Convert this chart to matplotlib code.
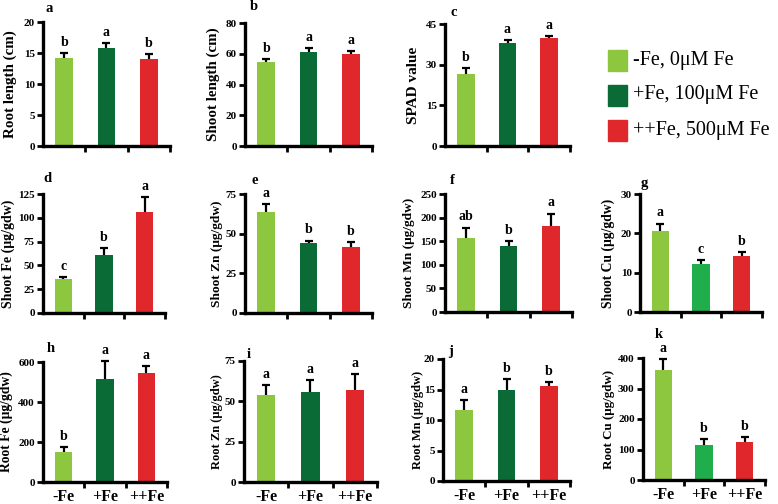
import numpy as np
import matplotlib
matplotlib.use("Agg")
import matplotlib.pyplot as plt
from matplotlib.patches import Rectangle

plt.rcParams['font.family'] = ['Liberation Serif', 'DejaVu Serif']

W, H = 778, 504

treatments = ["-Fe", "+Fe", "++Fe"]
legend_labels = ["-Fe, 0\u03bcM Fe", "+Fe, 100\u03bcM Fe", "++Fe, 500\u03bcM Fe"]

panel_ids = ["a", "b", "c", "d", "e", "f", "g", "h", "i", "j", "k"]
ylabels = ["Root length (cm)", "Shoot length (cm)", "SPAD value",
           "Shoot Fe (\u03bcg/gdw)", "Shoot Zn (\u03bcg/gdw)", "Shoot Mn (\u03bcg/gdw)", "Shoot Cu (\u03bcg/gdw)",
           "Root Fe (\u03bcg/gdw)", "Root Zn (\u03bcg/gdw)", "Root Mn (\u03bcg/gdw)", "Root Cu (\u03bcg/gdw)"]

root_length = [14.2, 15.8, 14.0]
root_length_err = [0.8, 0.8, 0.8]
shoot_length = [54.5, 61.0, 60.0]
shoot_length_err = [2.0, 2.6, 1.7]
spad = [26.6, 38.0, 39.9]
spad_err = [2.2, 1.1, 0.7]
shoot_fe = [36.0, 60.6, 106.0]
shoot_fe_err = [1.8, 7.7, 16.0]
shoot_zn = [63.4, 44.0, 41.8]
shoot_zn_err = [5.3, 1.6, 3.0]
shoot_mn = [156.0, 140.0, 182.0]
shoot_mn_err = [23.0, 11.0, 26.5]
shoot_cu = [20.7, 12.3, 14.2]
shoot_cu_err = [1.8, 0.8, 1.1]
root_fe = [150.0, 515.0, 547.0]
root_fe_err = [25.0, 88.0, 33.0]
root_zn = [53.8, 55.9, 57.3]
root_zn_err = [6.2, 7.2, 9.4]
root_mn = [11.6, 14.9, 15.5]
root_mn_err = [1.6, 1.8, 0.7]
root_cu = [362.0, 115.0, 126.0]
root_cu_err = [35.0, 20.0, 16.0]

values = [root_length, shoot_length, spad, shoot_fe, shoot_zn, shoot_mn, shoot_cu,
          root_fe, root_zn, root_mn, root_cu]
errors = [root_length_err, shoot_length_err, spad_err, shoot_fe_err, shoot_zn_err, shoot_mn_err,
          shoot_cu_err, root_fe_err, root_zn_err, root_mn_err, root_cu_err]
sig_letters = [["b", "a", "b"], ["b", "a", "a"], ["b", "a", "a"],
               ["c", "b", "a"], ["a", "b", "b"], ["ab", "b", "a"], ["a", "c", "b"],
               ["b", "a", "a"], ["a", "a", "a"], ["a", "b", "b"], ["a", "b", "b"]]
yticks = [[0, 5, 10, 15, 20], [0, 20, 40, 60, 80], [0, 15, 30, 45],
          [0, 25, 50, 75, 100, 125], [0, 25, 50, 75], [0, 50, 100, 150, 200, 250], [0, 10, 20, 30],
          [0, 200, 400, 600], [0, 25, 50, 75], [0, 5, 10, 15, 20], [0, 100, 200, 300, 400]]

colors = ["#8dc63f", "#0b6b36", "#e0282c"]
alt_mid = "#1fae4b"

# layout in pixels: x_left, x_right, y_top, y_bottom, ylabel offset, ylabel size, letter dx, letter dy
layout = [
    (43, 170, 22, 146, 26, 10.8, 2, 14),
    (245, 372, 23, 146, 25, 10.8, 5, 17),
    (445, 570, 24, 146, 25, 11, 5, 12),
    (43, 165, 194, 313, 28, 10, 0, 16),
    (245, 372, 194, 313, 22, 9.6, 7, 14),
    (445, 572, 194, 312, 30, 9.6, 5, 13),
    (640, 762, 194, 312, 25, 9.8, 1, 11),
    (43, 167, 362, 482, 30, 9.8, 4, 14),
    (244, 377, 361, 482, 21, 9, 3, 7),
    (443, 570, 359, 481, 19, 9, 5, 7),
    (643, 765, 358, 480, 28, 9.4, 12, 23),
]

fig = plt.figure(figsize=(W / 100, H / 100), dpi=100)
x = np.arange(len(treatments))

for idx in range(len(panel_ids)):
    x0, x1, yt, yb, lab_off, lab_size, ldx, ldy = layout[idx]
    ax = fig.add_axes([x0 / W, 1 - yb / H, (x1 - x0) / W, (yb - yt) / H])
    vals = np.array(values[idx])
    errs = np.array(errors[idx])
    cols = list(colors)
    if panel_ids[idx] in ("g", "k"):
        cols[1] = alt_mid
    ax.bar(x, vals, width=0.42, color=cols, zorder=2)
    ax.errorbar(x, vals, yerr=[np.zeros_like(errs), errs], fmt='none', ecolor='black',
                elinewidth=1.6, capsize=0, zorder=3, clip_on=False)
    ax.scatter(x, vals + errs, marker='_', s=30, color='black', linewidths=1.6, zorder=3,
               clip_on=False)
    for xi, v, e, s in zip(x, vals, errs, sig_letters[idx]):
        ax.annotate(s, (xi, v + e), xytext=(0, 3), textcoords='offset points',
                    ha='center', va='bottom', fontsize=10, fontweight='bold',
                    annotation_clip=False)
    ymax = yticks[idx][-1]
    ax.set_ylim(0, ymax)
    ax.set_xlim(-0.5, 2.5)
    ax.set_yticks(yticks[idx])
    ax.set_yticklabels([str(t) for t in yticks[idx]], fontsize=8, fontweight='bold')
    ax.set_xticks([0.5, 1.5, 2.5])
    ax.set_xticklabels([])
    if idx >= 7:
        ax.set_xticks(x, minor=True)
        ax.set_xticklabels(treatments, minor=True, fontsize=11.5, fontweight='bold')
        ax.tick_params(axis='x', which='minor', length=0, pad=5)
    for sp in ("top", "right"):
        ax.spines[sp].set_visible(False)
    for sp in ("left", "bottom"):
        ax.spines[sp].set_linewidth(2.4)
    ax.tick_params(axis='both', which='major', direction='out', length=4, width=2, pad=2)
    ax.set_ylabel(ylabels[idx], fontsize=lab_size, fontweight='bold')
    ax.yaxis.set_label_coords(-lab_off / (x1 - x0), 0.5)
    fig.text((x0 + ldx) / W, 1 - (yt - ldy) / H, panel_ids[idx], fontsize=10.5,
             fontweight='bold', ha='left', va='center')

# legend
for i, (lab, c) in enumerate(zip(legend_labels, colors)):
    cy = 60 + 35 * i
    fig.add_artist(Rectangle((608 / W, 1 - (cy + 10.5) / H), 19 / W, 21 / H,
                             transform=fig.transFigure, color=c))
    fig.text(633 / W, 1 - cy / H, lab, fontsize=14.5, ha='left', va='center')

fig.savefig("out.png", dpi=100)
